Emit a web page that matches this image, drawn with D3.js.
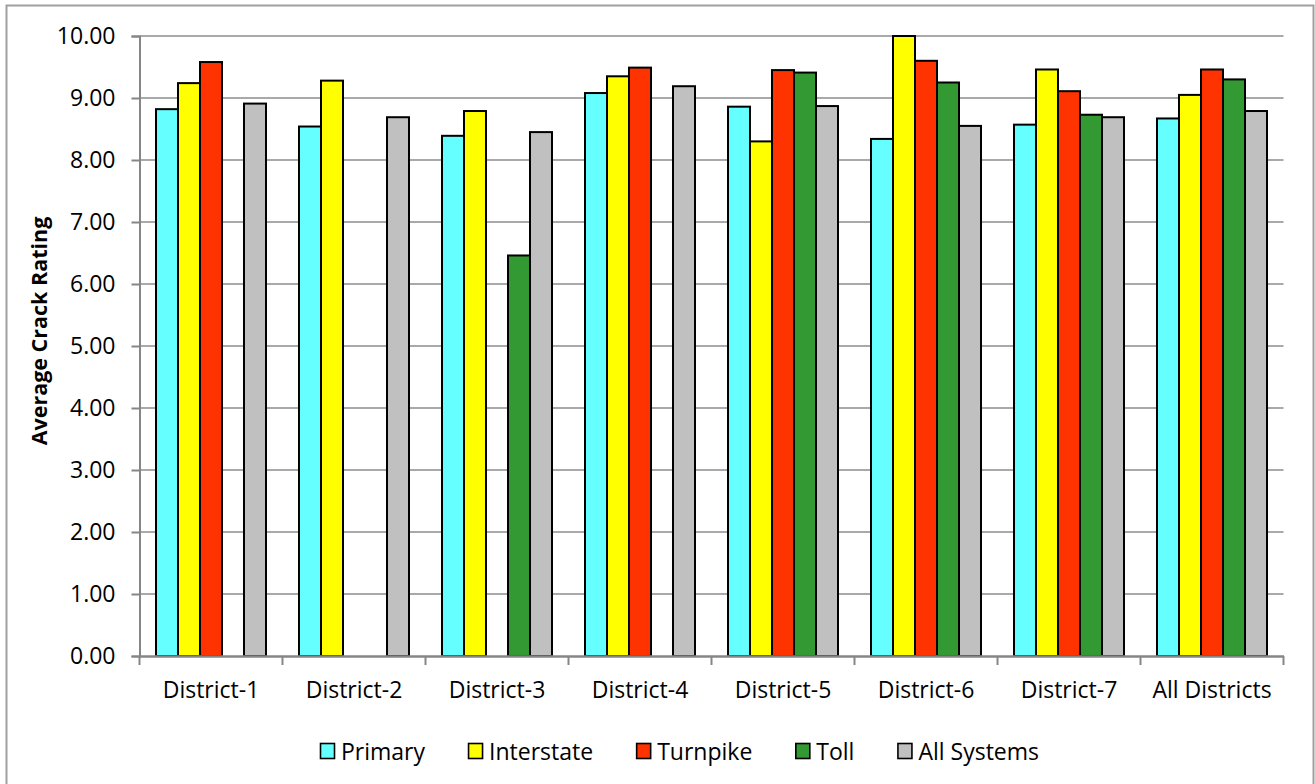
<!DOCTYPE html>
<html>
<head>
<meta charset="utf-8">
<script src="https://cdn.jsdelivr.net/npm/d3@7"></script>
<style>
  html, body { margin: 0; padding: 0; background: #fff; }
  svg { display: block; }
  text { font-family: "Open Sans", "Noto Sans", sans-serif; fill: #000; }
</style>
</head>
<body>
<svg id="chart" width="1315" height="784"></svg>
<script>
const categories = ["District-1", "District-2", "District-3", "District-4", "District-5", "District-6", "District-7", "All Districts"];
const seriesNames = ["Primary", "Interstate", "Turnpike", "Toll", "All Systems"];
const seriesColors = ["#66FFFF", "#FFFF00", "#FF3300", "#339933", "#C0C0C0"];
const primary    = [8.82, 8.54, 8.39, 9.08, 8.86, 8.34, 8.57, 8.67];
const interstate = [9.24, 9.28, 8.79, 9.35, 8.30, 10.00, 9.46, 9.05];
const turnpike   = [9.58, null, null, 9.49, 9.45, 9.60, 9.11, 9.46];
const toll       = [null, null, 6.46, null, 9.41, 9.25, 8.73, 9.30];
const allSystems = [8.91, 8.69, 8.45, 9.19, 8.87, 8.55, 8.69, 8.79];
const yTicks = [0, 1, 2, 3, 4, 5, 6, 7, 8, 9, 10];
const yTitle = "Average Crack Rating";

const seriesValues = [primary, interstate, turnpike, toll, allSystems];

const svg = d3.select("#chart");
const plot = { left: 139.5, right: 1283.5, top: 36, bottom: 656 };

// outer border
svg.append("rect")
  .attr("x", 6.5).attr("y", 5.5)
  .attr("width", 1313.5 - 6.5).attr("height", 800)
  .attr("fill", "#fff").attr("stroke", "#a0a0a0").attr("stroke-width", 2);

const y = d3.scaleLinear().domain([0, 10]).range([plot.bottom, plot.top]);
const x0 = d3.scaleBand().domain(categories).range([plot.left, plot.right]).padding(0);
const x1 = d3.scaleBand().domain(seriesNames).range([0, x0.bandwidth()])
  .paddingInner(0).paddingOuter(0.75);

// gridlines
svg.append("g").selectAll("line").data(yTicks.filter(d => d > 0)).join("line")
  .attr("x1", plot.left).attr("x2", plot.right)
  .attr("y1", d => y(d)).attr("y2", d => y(d))
  .attr("stroke", "#8c8c8c").attr("stroke-width", 1.6);

// bars
const rows = [];
seriesNames.forEach((s, si) => {
  categories.forEach((c, ci) => {
    const v = seriesValues[si][ci];
    if (v !== null && v !== undefined) rows.push({ s, c, v, color: seriesColors[si] });
  });
});
svg.append("g").selectAll("rect").data(rows).join("rect")
  .attr("x", d => x0(d.c) + x1(d.s))
  .attr("y", d => y(d.v))
  .attr("width", x1.bandwidth())
  .attr("height", d => y(0) - y(d.v))
  .attr("fill", d => d.color)
  .attr("stroke", "#000").attr("stroke-width", 2);

// y axis
const yAxis = d3.axisLeft(y).tickValues(yTicks).tickFormat(d3.format(".2f")).tickSize(8).tickPadding(16);
const gy = svg.append("g").attr("transform", `translate(${plot.left},0)`).call(yAxis);
gy.select(".domain").attr("stroke", "#868686").attr("stroke-width", 2);
gy.selectAll(".tick line").attr("stroke", "#868686").attr("stroke-width", 2);
gy.selectAll(".tick text").attr("font-size", 23).attr("font-family", "'Open Sans', sans-serif").attr("fill", "#000");

// x axis
const xAxis = d3.axisBottom(x0).tickSize(0).tickPadding(26);
const gx = svg.append("g").attr("transform", `translate(0,${plot.bottom})`).call(xAxis);
gx.select(".domain").attr("stroke", "#868686").attr("stroke-width", 2.6);
gx.selectAll(".tick text").attr("font-size", 23).attr("font-family", "'Open Sans', sans-serif").attr("fill", "#000");
// category boundary ticks
const bounds = categories.map(c => x0(c)).concat([x0(categories[categories.length - 1]) + x0.bandwidth()]);
gx.append("g").selectAll("line").data(bounds).join("line")
  .attr("x1", d => d).attr("x2", d => d).attr("y1", 0).attr("y2", 9)
  .attr("stroke", "#868686").attr("stroke-width", 2);

// y title
svg.append("text")
  .attr("transform", `translate(47,${(plot.top + plot.bottom) / 2 - 15}) rotate(-90)`)
  .attr("text-anchor", "middle")
  .attr("font-size", 21.5).attr("font-weight", "bold")
  .text(yTitle);

// legend
const leg = svg.append("g").attr("transform", "translate(320,0)");
let cx = 0;
seriesNames.forEach((s, i) => {
  const g = leg.append("g").attr("transform", `translate(${cx},0)`);
  g.append("rect").attr("x", 0.5).attr("y", 743.5).attr("width", 14).attr("height", 15)
    .attr("fill", seriesColors[i]).attr("stroke", "#000").attr("stroke-width", 1.6);
  const t = g.append("text").attr("x", 21).attr("y", 760).attr("font-size", 23).text(s);
  cx += 21 + t.node().getComputedTextLength() + 43;
});
</script>
</body>
</html>
